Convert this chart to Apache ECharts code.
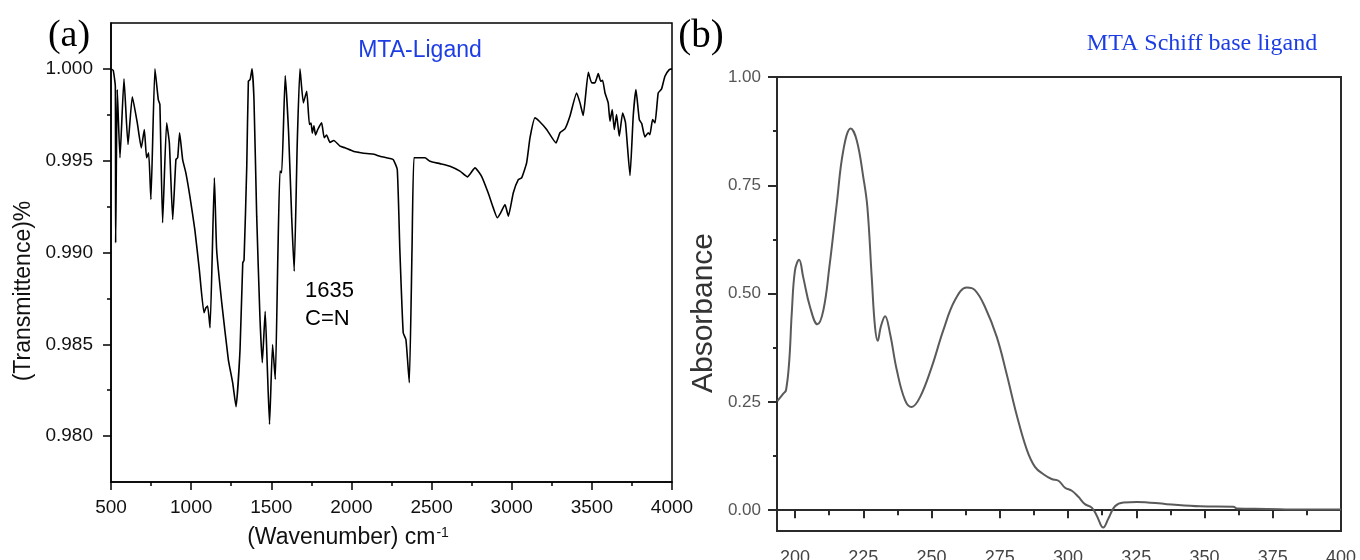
<!DOCTYPE html>
<html><head><meta charset="utf-8">
<script src="https://cdn.jsdelivr.net/npm/echarts@6/dist/echarts.min.js"></script>
<style>html,body{margin:0;padding:0;background:#fff}#c{width:1360px;height:560px}</style>
</head><body><div id="c"></div>
<script>
// ---- Panel (a): FTIR ----
const ftirWavenumber = [500,514,527,529,539,556,581,606,633,664,689,708,722,735,749,774,795,805,822,847,864,885,905,916,928,947,967,992,1023,1051,1080,1092,1103,1118,1145,1159,1191,1232,1259,1280,1305,1322,1330,1347,1357,1368,1380,1392,1409,1429,1444,1462,1475,1489,1508,1525,1541,1554,1565,1587,1608,1627,1643,1662,1679,1700,1721,1738,1748,1756,1766,1776,1790,1814,1830,1845,1866,1890,1929,1960,2012,2050,2095,2140,2178,2241,2261,2286,2302,2323,2340,2361,2378,2390,2417,2459,2490,2552,2615,2677,2723,2771,2812,2853,2885,2910,2931,2958,2979,3010,3041,3062,3093,3114,3145,3172,3218,3276,3301,3332,3363,3405,3426,3446,3478,3499,3519,3540,3555,3567,3582,3602,3613,3627,3640,3654,3671,3692,3710,3738,3758,3775,3796,3811,3831,3852,3862,3879,3894,3914,3935,3956,3983,4000];
const ftirTransmittance = [1.000,0.99992,0.99905,0.99053,0.99887,0.99516,0.99946,0.99588,0.99848,0.99706,0.9957,0.9967,0.99516,0.99543,0.99289,1.000,0.99833,0.99806,0.99162,0.99706,0.99597,0.9918,0.99506,0.99516,0.99652,0.99506,0.99434,0.99307,0.99125,0.98907,0.98672,0.98699,0.98708,0.9859,0.99407,0.99016,0.98726,0.98417,0.98291,0.9816,0.98472,0.98944,0.98958,0.9947,0.99933,0.99942,1.000,0.99833,0.99198,0.98653,0.984,0.9868,0.98381,0.98064,0.98499,0.98309,0.9898,0.99443,0.99434,0.99964,0.99652,0.99198,0.98898,0.99597,1.000,0.99815,0.99878,0.99697,0.99705,0.99650,0.99690,0.99640,0.99670,0.99706,0.99625,0.99640,0.99600,0.99610,0.99579,0.99570,0.99551,0.99545,0.99539,0.99535,0.99524,0.99512,0.99506,0.99452,0.99016,0.98563,0.98526,0.98291,0.99016,0.99516,0.99516,0.99516,0.99497,0.99484,0.9947,0.99443,0.99412,0.99461,0.99415,0.99325,0.99243,0.99189,0.99216,0.99261,0.99198,0.99325,0.99397,0.99407,0.99488,0.99624,0.99733,0.99715,0.9967,0.99597,0.99652,0.99673,0.99742,0.99869,0.99815,0.99746,0.99981,0.99924,0.99924,0.99974,0.99933,0.99938,0.99869,0.99815,0.99715,0.99778,0.9967,0.99751,0.99633,0.9976,0.99706,0.99419,0.99742,0.99887,0.99724,0.99702,0.9963,0.99652,0.99642,0.99724,0.99706,0.99869,0.99891,0.9996,0.99996,1.000];
const ftirXLabels = [500,1000,1500,2000,2500,3000,3500,4000];
const ftirXMinor = [750,1250,1750,2250,2750,3250,3750];
const ftirYLabels = [0.980,0.985,0.990,0.995,1.000];
const ftirYMinor = [0.9825,0.9875,0.9925,0.9975];

// ---- Panel (b): UV-Vis ----
const uvWavelength = [193.5,195.7,196.7,197.9,198.8,200,201.5,203,205.5,208.2,210.4,212.6,215.3,217.7,220.4,222.6,225,226.5,228.1,229.3,230.3,231.4,233,234.8,237.3,240.3,242.7,245.8,250.1,254.3,258.6,262.9,265.9,269.6,273.9,277.5,281.2,284.9,287.9,291,294,296.5,298.9,301.4,303.8,306.2,308.7,310.5,312.9,314.8,317.2,320.3,325.2,336.2,348.4,360.6,361.8,372.8,385,400];
const uvAbsorbance = [0.252,0.269,0.277,0.346,0.454,0.554,0.578,0.538,0.469,0.429,0.462,0.562,0.708,0.831,0.881,0.854,0.769,0.700,0.538,0.423,0.391,0.423,0.448,0.408,0.323,0.254,0.238,0.261,0.331,0.415,0.485,0.514,0.508,0.469,0.400,0.315,0.220,0.140,0.100,0.083,0.072,0.068,0.052,0.045,0.031,0.014,0.006,-0.012,-0.040,-0.019,0.009,0.018,0.019,0.014,0.009,0.008,0.004,0.003,0.0015,0.0015];
const uvXLabels = [200,225,250,275,300,325,350,375,400];
const uvXMinor = [212.5,237.5,262.5,287.5,312.5,337.5,362.5,387.5];
const uvYLabels = [0,0.25,0.5,0.75,1.0];
const uvYMinor = [0.125,0.375,0.625,0.875];

const SANS = "'Liberation Sans', Arial, sans-serif";
const SERIF = "'Liberation Serif', 'Times New Roman', serif";
const BLUE = '#1d3de4';

const chart = echarts.init(document.getElementById('c'), null, {renderer:'canvas'});

function line(c, w){ return {show:true, lineStyle:{color:c, width:w}}; }

chart.setOption({
  animation:false,
  backgroundColor:'#fff',
  grid:[
    {left:111, top:23, width:561, height:459, show:true, borderColor:'#000', borderWidth:1.5, backgroundColor:'transparent', containLabel:false, outerBoundsMode:'none'},
    {left:777, top:77, width:564, height:454, show:true, borderColor:'#2a2a2a', borderWidth:2, backgroundColor:'transparent', containLabel:false, outerBoundsMode:'none'}
  ],
  xAxis:[
    {gridIndex:0, type:'value', min:500, max:4000, position:'bottom',
     axisLine:line('#000',1.5),
     axisTick:{show:true, inside:false, length:8, customValues:ftirXLabels, lineStyle:{color:'#000', width:1.5}},
     splitLine:{show:false},
     axisLabel:{customValues:ftirXLabels, fontSize:19, color:'#111', margin:16, fontFamily:SANS,
                formatter:v=>String(v)}},
    {gridIndex:0, type:'value', min:500, max:4000, position:'bottom', offset:0,
     axisLine:{show:false},
     axisTick:{show:true, inside:false, length:4, customValues:ftirXMinor, lineStyle:{color:'#000', width:1.5}},
     splitLine:{show:false}, axisLabel:{show:false}},
    {gridIndex:1, type:'value', min:193.4, max:400, position:'bottom',
     axisLine:line('#2a2a2a',2),
     axisTick:{show:true, inside:false, length:8, customValues:uvXLabels, lineStyle:{color:'#2a2a2a', width:2}},
     splitLine:{show:false},
     axisLabel:{customValues:uvXLabels, fontSize:18, color:'#444', margin:18, fontFamily:SANS, formatter:v=>String(v)}},
    {gridIndex:1, type:'value', min:193.4, max:400, position:'bottom', offset:0,
     axisLine:{show:false},
     axisTick:{show:true, inside:false, length:5, customValues:uvXMinor, lineStyle:{color:'#2a2a2a', width:2}},
     splitLine:{show:false}, axisLabel:{show:false}}
  ],
  yAxis:[
    {gridIndex:0, type:'value', min:0.9775, max:1.0025, position:'left',
     axisLine:line('#000',1.5),
     axisTick:{show:true, inside:false, length:8, customValues:ftirYLabels, lineStyle:{color:'#000', width:1.5}},
     splitLine:{show:false},
     axisLabel:{customValues:ftirYLabels, fontSize:19, color:'#111', margin:18, fontFamily:SANS,
                formatter:v=>Number(v).toFixed(3)}},
    {gridIndex:0, type:'value', min:0.9775, max:1.0025, position:'left', offset:0,
     axisLine:{show:false},
     axisTick:{show:true, inside:false, length:4, customValues:ftirYMinor, lineStyle:{color:'#000', width:1.5}},
     splitLine:{show:false}, axisLabel:{show:false}},
    {gridIndex:1, type:'value', min:-0.048, max:1.0, position:'left',
     axisLine:line('#2a2a2a',2),
     axisTick:{show:true, inside:false, length:9, customValues:uvYLabels, lineStyle:{color:'#2a2a2a', width:2}},
     splitLine:{show:false},
     axisLabel:{customValues:uvYLabels, fontSize:17, color:'#555', margin:16, fontFamily:SANS,
                formatter:v=>Number(v).toFixed(2)}},
    {gridIndex:1, type:'value', min:-0.048, max:1.0, position:'left', offset:0,
     axisLine:{show:false},
     axisTick:{show:true, inside:false, length:4, customValues:uvYMinor, lineStyle:{color:'#2a2a2a', width:2}},
     splitLine:{show:false}, axisLabel:{show:false}}
  ],
  series:[
    {type:'line', xAxisIndex:0, yAxisIndex:0, showSymbol:false, smooth:0.15,
     data: ftirWavenumber.map((x,i)=>[x, ftirTransmittance[i]]),
     lineStyle:{color:'#000', width:1.6}, clip:true},
    {type:'line', xAxisIndex:2, yAxisIndex:2, showSymbol:false, smooth:0.4,
     data: uvWavelength.map((x,i)=>[x, uvAbsorbance[i]]),
     lineStyle:{color:'#5a5a5a', width:2}, clip:true}
  ],
  graphic:[
    {type:'text', x:69, y:36, style:{text:'(a)', fontSize:38, fontFamily:SERIF, fill:'#000', align:'center', verticalAlign:'middle', textAlign:'center', textVerticalAlign:'middle'}},
    {type:'text', x:420, y:51, style:{text:'MTA-Ligand', fontSize:23, fontFamily:SANS, fill:BLUE, align:'center', verticalAlign:'middle', textAlign:'center', textVerticalAlign:'middle'}},
    {type:'text', x:305, y:291, style:{text:'1635', fontSize:22, fontFamily:SANS, fill:'#000', align:'left', verticalAlign:'middle', textAlign:'left', textVerticalAlign:'middle'}},
    {type:'text', x:305, y:319, style:{text:'C=N', fontSize:22, fontFamily:SANS, fill:'#000', align:'left', verticalAlign:'middle', textAlign:'left', textVerticalAlign:'middle'}},
    {type:'text', x:24, y:291, rotation:Math.PI/2, style:{text:'(Transmittence)%', fontSize:23, fontFamily:SANS, fill:'#111', align:'center', verticalAlign:'middle', textAlign:'center', textVerticalAlign:'middle'}},
    {type:'text', x:348, y:538, style:{text:'(Wavenumber) cm{sup|-1}', fontSize:23, fontFamily:SANS, fill:'#111', align:'center', verticalAlign:'middle', textAlign:'center', textVerticalAlign:'middle',
      rich:{sup:{fontSize:14, fontFamily:SANS, fill:'#111', verticalAlign:'top', padding:[0,0,10,1]}}}},
    {type:'text', x:701, y:37, style:{text:'(b)', fontSize:39, fontFamily:SERIF, fill:'#000', align:'center', verticalAlign:'middle', textAlign:'center', textVerticalAlign:'middle'}},
    {type:'text', x:1202, y:44, style:{text:'MTA Schiff base ligand', fontSize:24, fontFamily:SERIF, fill:BLUE, align:'center', verticalAlign:'middle', textAlign:'center', textVerticalAlign:'middle'}},
    {type:'text', x:704, y:313, rotation:Math.PI/2, style:{text:'Absorbance', fontSize:30, fontFamily:SANS, fill:'#333', align:'center', verticalAlign:'middle', textAlign:'center', textVerticalAlign:'middle'}}
  ]
});
</script>
</body></html>
